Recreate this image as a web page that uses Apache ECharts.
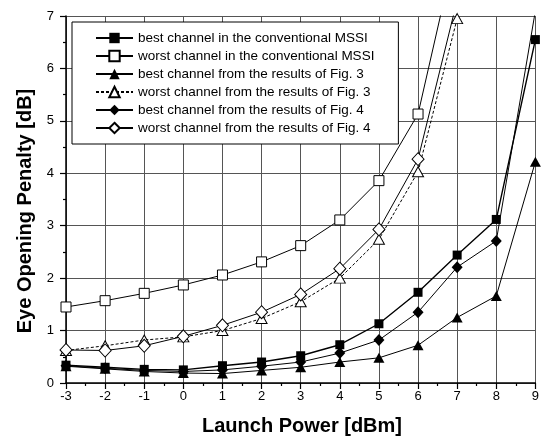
<!DOCTYPE html>
<html>
<head>
<meta charset="utf-8">
<script src="https://cdn.jsdelivr.net/npm/echarts@6/dist/echarts.min.js"></script>
<style>
  html, body { margin: 0; padding: 0; background: #fff; }
  #chart { width: 542px; height: 443px; }
</style>
</head>
<body>
<div id="chart"></div>
<script>
// Launch power in dBm
const launchPower = [-3, -2, -1, 0, 1, 2, 3, 4, 5, 6, 7, 8, 9];

// Eye opening penalty in dB for each channel case
const bestConventional  = [0.34, 0.30, 0.26, 0.25, 0.33, 0.40, 0.52, 0.73, 1.13, 1.73, 2.44, 3.12, 6.55];
const worstConventional = [1.45, 1.57, 1.71, 1.87, 2.06, 2.31, 2.62, 3.11, 3.86, 5.13, 8.40];
const bestFig3          = [0.32, 0.27, 0.22, 0.19, 0.18, 0.24, 0.30, 0.40, 0.48, 0.72, 1.25, 1.66, 4.22];
const worstFig3         = [0.62, 0.71, 0.82, 0.88, 1.00, 1.23, 1.55, 2.00, 2.74, 4.03, 6.95];
const bestFig4          = [0.33, 0.28, 0.24, 0.22, 0.25, 0.32, 0.40, 0.57, 0.82, 1.35, 2.21, 2.71, 7.10];
const worstFig4         = [0.63, 0.62, 0.71, 0.89, 1.10, 1.35, 1.69, 2.18, 2.93, 4.27, 7.30];

const seriesNames = [
  'best channel in the conventional MSSI',
  'worst channel in the conventional MSSI',
  'best channel from the results of Fig. 3',
  'worst channel from the results of Fig. 3',
  'best channel from the results of Fig. 4',
  'worst channel from the results of Fig. 4'
];

const FONT = '"Liberation Sans", Arial, sans-serif';

function pairs(values) {
  return values.map((v, i) => [launchPower[i], v]);
}

function makeSeries(name, values, symbol, size, filled, lineStyle) {
  return {
    name: name,
    type: 'line',
    data: pairs(values),
    symbol: symbol,
    symbolSize: size,
    clip: true,
    z: filled ? 3 : 4,
    lineStyle: Object.assign({ color: '#000', width: 1 }, lineStyle || {}),
    itemStyle: filled
      ? { color: '#000', borderColor: '#000', borderWidth: 0 }
      : { color: '#fff', borderColor: '#000', borderWidth: 1 },
    emphasis: { disabled: true },
    animation: false
  };
}

const chart = echarts.init(document.getElementById('chart'), null, { renderer: 'canvas' });

chart.setOption({
  backgroundColor: '#fff',
  animation: false,
  grid: { left: 66, right: 3, top: 16, bottom: 60, containLabel: false },
  xAxis: {
    type: 'value',
    min: -3, max: 9, interval: 1,
    axisLine: { show: true, onZero: false, lineStyle: { color: '#000', width: 1.5 } },
    axisTick: { show: true, inside: false, length: 6, lineStyle: { color: '#000', width: 1.2 } },
    minorTick: { show: true, splitNumber: 2, length: 3, lineStyle: { color: '#000', width: 1.2 } },
    axisLabel: { color: '#000', fontSize: 13, fontFamily: FONT, margin: 7 },
    splitLine: { show: true, lineStyle: { color: '#555', width: 1 } }
  },
  yAxis: {
    type: 'value',
    min: 0, max: 7, interval: 1,
    axisLine: { show: true, onZero: false, lineStyle: { color: '#000', width: 1.5 } },
    axisTick: { show: true, inside: false, length: 6, lineStyle: { color: '#000', width: 1.2 } },
    minorTick: { show: true, splitNumber: 2, length: 3, lineStyle: { color: '#000', width: 1.2 } },
    axisLabel: { color: '#000', fontSize: 13, fontFamily: FONT, margin: 12 },
    splitLine: { show: true, lineStyle: { color: '#555', width: 1 } }
  },
  legend: {
    orient: 'vertical',
    left: 72, top: 22,
    padding: [9, 24, 9, 23],
    backgroundColor: '#fff',
    borderColor: '#000',
    borderWidth: 1,
    itemWidth: 37,
    itemHeight: 13,
    itemGap: 4,
    selectedMode: false,
    textStyle: { color: '#000', fontSize: 13.5, fontFamily: FONT },
    data: seriesNames
  },
  graphic: [
    {
      type: 'text',
      x: 25, y: 211,
      rotation: Math.PI / 2,
      style: {
        text: 'Eye Opening Penalty [dB]',
        font: 'bold 20px ' + FONT,
        fill: '#000',
        textAlign: 'center',
        textVerticalAlign: 'middle'
      }
    },
    {
      type: 'text',
      x: 302, y: 426,
      style: {
        text: 'Launch Power [dBm]',
        font: 'bold 20px ' + FONT,
        fill: '#000',
        textAlign: 'center',
        textVerticalAlign: 'middle'
      }
    }
  ],
  series: [
    makeSeries(seriesNames[0], bestConventional, 'rect', 9, true, { width: 1.4 }),
    makeSeries(seriesNames[1], worstConventional, 'rect', 10, false),
    makeSeries(seriesNames[2], bestFig3, 'triangle', [11, 10], true),
    makeSeries(seriesNames[3], worstFig3, 'triangle', [11, 10], false, { type: [3, 2] }),
    makeSeries(seriesNames[4], bestFig4, 'diamond', [11, 12], true),
    makeSeries(seriesNames[5], worstFig4, 'diamond', [12, 13], false)
  ]
});
</script>
</body>
</html>
